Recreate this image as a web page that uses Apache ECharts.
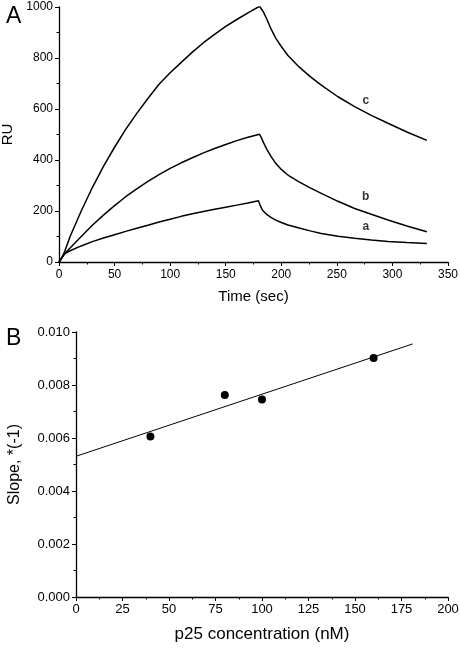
<!DOCTYPE html>
<html>
<head>
<meta charset="utf-8">
<script src="https://cdn.jsdelivr.net/npm/echarts@6/dist/echarts.min.js"></script>
<style>
html,body{margin:0;padding:0;background:#fff;}
#chart{width:460px;height:648px;}
</style>
</head>
<body>
<div id="chart"></div>
<script>
// Panel A: sensorgrams, [time (sec), RU]
var curveA = [[0,0],[2,14],[5,32],[10,44],[20,63],[30,80],[40,94],[50,107],[60,120],[70,132],[80,144],[90,157],[100,168],[110,179],[120,189],[130,198],[140,207],[150,215],[160,223],[170,231],[179.5,240],
  [181,222],[183,204],[186,190],[191,174],[195,164],[200,155],[206,145],[216,133],[226,122],[236,112],[251,101],[266,93],[281,86],[296,80],[313,76],[331,73]];
var curveB = [[0,0],[2,12],[5,32],[10,55],[20,100],[30,144],[40,184],[50,221],[60,256],[70,287],[80,316],[90,343],[100,367],[110,389],[120,409],[130,428],[140,445],[150,461],[160,476],[170,489],[180.5,501],
  [182,488],[184,468],[187,442],[191,412],[195,387],[200,363],[206,341],[216,314],[226,291],[236,269],[251,238],[266,210],[281,187],[296,165],[313,141],[331,119]];
var curveC = [[0,0],[2,12],[5,40],[10,100],[20,200],[30,292],[40,375],[50,450],[60,520],[70,583],[80,641],[90,697],[100,742],[110,783],[120,823],[130,860],[140,893],[150,924],[160,951],[170,977],[180.5,1003],
  [182,996],[184,980],[187,952],[191,912],[195,878],[200,845],[206,810],[216,765],[226,727],[236,694],[251,648],[266,609],[281,575],[296,544],[313,510],[331,477]];
var curveLabels = [{name:'a', value:[276,138]},{name:'b', value:[276,256]},{name:'c', value:[276,631]}];

// Panel B: slope vs p25 concentration
var concentration = [40, 80, 100, 160];
var slopeValues = [0.00606, 0.00762, 0.00745, 0.00902];
var fitLine = [[0, 0.00531], [181, 0.00955]];

var xTicksA = {min:0, max:350, interval:50};
var yTicksA = {min:0, max:1000, interval:200};
var xTicksB = {min:0, max:200, interval:25};
var yTicksB = {min:0, max:0.010, interval:0.002};

var FONT = 'Liberation Sans, Arial, Helvetica, sans-serif';

function axisCommon(){
  return {
    axisLine:{show:true, onZero:false, lineStyle:{color:'#000', width:1.3}},
    axisTick:{show:true, inside:false, length:4, lineStyle:{color:'#000', width:1}},
    minorTick:{show:true, splitNumber:2, length:2.5, lineStyle:{color:'#000', width:1}},
    splitLine:{show:false},
    minorSplitLine:{show:false}
  };
}

var scatterData = concentration.map(function(c,i){return [c, slopeValues[i]];});

var chart = echarts.init(document.getElementById('chart'), null, {renderer:'canvas'});
var option = {
  animation:false,
  backgroundColor:'#fff',
  title:[
    {text:'A', left:1, top:0, textStyle:{fontSize:23, fontWeight:'normal', color:'#000', fontFamily:FONT}},
    {text:'B', left:1, top:322, textStyle:{fontSize:23, fontWeight:'normal', color:'#000', fontFamily:FONT}}
  ],
  grid:[
    {left:59, right:12, top:7, height:255, containLabel:false, outerBoundsMode:'none'},
    {left:76, right:12, top:332, height:265, containLabel:false, outerBoundsMode:'none'}
  ],
  xAxis:[
    Object.assign(axisCommon(), {
      type:'value', gridIndex:0, min:xTicksA.min, max:xTicksA.max, interval:xTicksA.interval,
      name:'Time (sec)', nameLocation:'middle', nameGap:27,
      nameTextStyle:{color:'#000', fontFamily:FONT, fontSize:15},
      axisLabel:{color:'#000', fontSize:12, fontFamily:FONT, margin:7, formatter:function(v){return String(v);}}
    }),
    Object.assign(axisCommon(), {
      type:'value', gridIndex:1, min:xTicksB.min, max:xTicksB.max, interval:xTicksB.interval,
      name:'p25 concentration (nM)', nameLocation:'middle', nameGap:29,
      nameTextStyle:{color:'#000', fontFamily:FONT, fontSize:17},
      axisLabel:{color:'#000', fontSize:13, fontFamily:FONT, margin:6, formatter:function(v){return String(v);}}
    })
  ],
  yAxis:[
    Object.assign(axisCommon(), {
      type:'value', gridIndex:0, min:yTicksA.min, max:yTicksA.max, interval:yTicksA.interval,
      name:'RU', nameLocation:'middle', nameGap:43, nameRotate:90,
      nameTextStyle:{color:'#000', fontFamily:FONT, fontSize:15},
      axisLabel:{color:'#000', fontSize:12, fontFamily:FONT, margin:6, formatter:function(v){return String(v);}}
    }),
    Object.assign(axisCommon(), {
      type:'value', gridIndex:1, min:yTicksB.min, max:yTicksB.max, interval:yTicksB.interval,
      name:'Slope, *(-1)', nameLocation:'middle', nameGap:53, nameRotate:90,
      nameTextStyle:{color:'#000', fontFamily:FONT, fontSize:16},
      axisLabel:{color:'#000', fontSize:13, fontFamily:FONT, margin:6,
        formatter:function(v){return v.toFixed(3);}}
    })
  ],
  series:[
    {type:'line', name:'a', xAxisIndex:0, yAxisIndex:0, data:curveA, showSymbol:false, smooth:false,
      lineStyle:{color:'#000', width:1.5}},
    {type:'line', name:'b', xAxisIndex:0, yAxisIndex:0, data:curveB, showSymbol:false, smooth:false,
      lineStyle:{color:'#000', width:1.5}},
    {type:'line', name:'c', xAxisIndex:0, yAxisIndex:0, data:curveC, showSymbol:false, smooth:false,
      lineStyle:{color:'#000', width:1.5}},
    {type:'scatter', xAxisIndex:0, yAxisIndex:0, data:curveLabels, symbolSize:0, silent:true,
      label:{show:true, position:'inside', formatter:'{b}', color:'#000', fontSize:12, fontWeight:'bold', fontFamily:FONT}},
    {type:'line', xAxisIndex:1, yAxisIndex:1, data:fitLine, showSymbol:false,
      lineStyle:{color:'#000', width:1}},
    {type:'scatter', xAxisIndex:1, yAxisIndex:1, data:scatterData, symbol:'circle', symbolSize:8,
      itemStyle:{color:'#000', opacity:1}}
  ]
};
chart.setOption(option);
</script>
</body>
</html>
